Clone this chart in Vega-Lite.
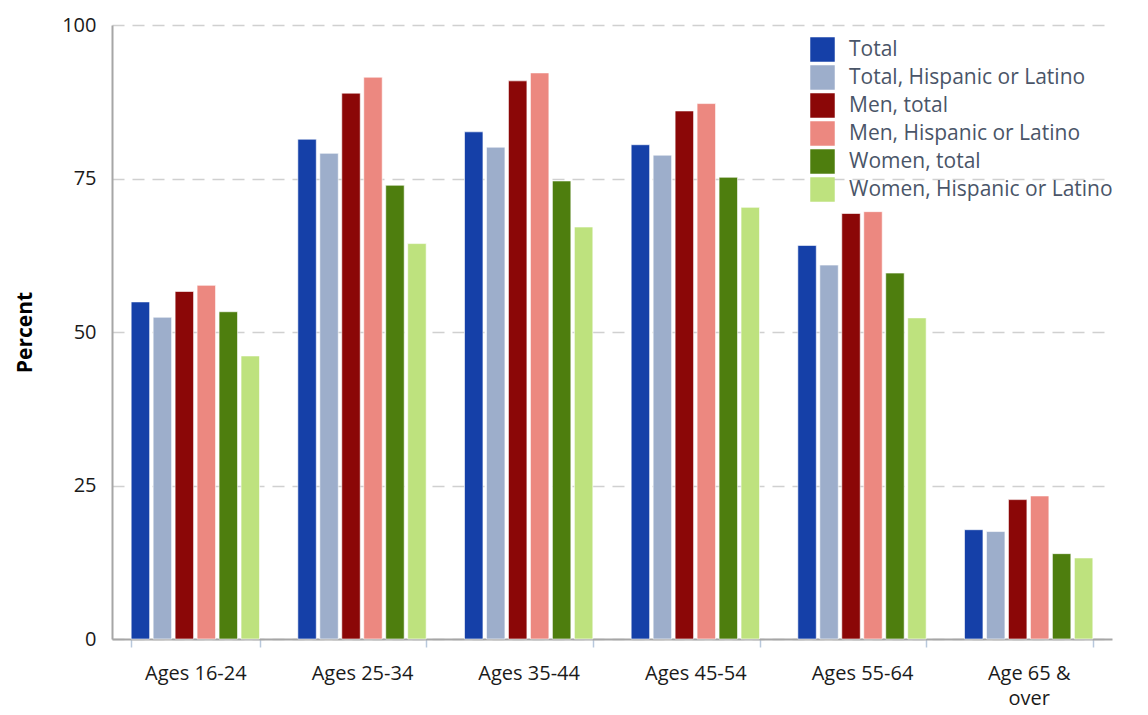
{
  "$schema": "https://vega.github.io/schema/vega-lite/v6.json",
  "width": 1000,
  "height": 614,
  "autosize": {"type": "none"},
  "padding": {"left": 112, "top": 25, "right": 36, "bottom": 76},
  "background": "white",
  "data": {
    "values": [
      {"age": "Ages 16-24", "series": "Total", "value": 54.9},
      {"age": "Ages 16-24", "series": "Total, Hispanic or Latino", "value": 52.4},
      {"age": "Ages 16-24", "series": "Men, total", "value": 56.6},
      {"age": "Ages 16-24", "series": "Men, Hispanic or Latino", "value": 57.6},
      {"age": "Ages 16-24", "series": "Women, total", "value": 53.3},
      {"age": "Ages 16-24", "series": "Women, Hispanic or Latino", "value": 46.1},
      {"age": "Ages 25-34", "series": "Total", "value": 81.4},
      {"age": "Ages 25-34", "series": "Total, Hispanic or Latino", "value": 79.1},
      {"age": "Ages 25-34", "series": "Men, total", "value": 88.9},
      {"age": "Ages 25-34", "series": "Men, Hispanic or Latino", "value": 91.5},
      {"age": "Ages 25-34", "series": "Women, total", "value": 73.9},
      {"age": "Ages 25-34", "series": "Women, Hispanic or Latino", "value": 64.4},
      {"age": "Ages 35-44", "series": "Total", "value": 82.6},
      {"age": "Ages 35-44", "series": "Total, Hispanic or Latino", "value": 80.1},
      {"age": "Ages 35-44", "series": "Men, total", "value": 90.9},
      {"age": "Ages 35-44", "series": "Men, Hispanic or Latino", "value": 92.2},
      {"age": "Ages 35-44", "series": "Women, total", "value": 74.6},
      {"age": "Ages 35-44", "series": "Women, Hispanic or Latino", "value": 67.1},
      {"age": "Ages 45-54", "series": "Total", "value": 80.5},
      {"age": "Ages 45-54", "series": "Total, Hispanic or Latino", "value": 78.8},
      {"age": "Ages 45-54", "series": "Men, total", "value": 86.0},
      {"age": "Ages 45-54", "series": "Men, Hispanic or Latino", "value": 87.2},
      {"age": "Ages 45-54", "series": "Women, total", "value": 75.2},
      {"age": "Ages 45-54", "series": "Women, Hispanic or Latino", "value": 70.3},
      {"age": "Ages 55-64", "series": "Total", "value": 64.1},
      {"age": "Ages 55-64", "series": "Total, Hispanic or Latino", "value": 60.9},
      {"age": "Ages 55-64", "series": "Men, total", "value": 69.3},
      {"age": "Ages 55-64", "series": "Men, Hispanic or Latino", "value": 69.6},
      {"age": "Ages 55-64", "series": "Women, total", "value": 59.6},
      {"age": "Ages 55-64", "series": "Women, Hispanic or Latino", "value": 52.3},
      {"age": "Age 65 & over", "series": "Total", "value": 17.8},
      {"age": "Age 65 & over", "series": "Total, Hispanic or Latino", "value": 17.5},
      {"age": "Age 65 & over", "series": "Men, total", "value": 22.7},
      {"age": "Age 65 & over", "series": "Men, Hispanic or Latino", "value": 23.3},
      {"age": "Age 65 & over", "series": "Women, total", "value": 13.9},
      {"age": "Age 65 & over", "series": "Women, Hispanic or Latino", "value": 13.2}
    ]
  },
  "mark": {"type": "bar", "stroke": "#ffffff", "strokeWidth": 1, "strokeOpacity": 0.6},
  "encoding": {
    "x": {
      "field": "age",
      "type": "nominal",
      "sort": null,
      "scale": {"paddingInner": 0.23, "paddingOuter": 0.115},
      "axis": {
        "title": null,
        "labelAngle": 0,
        "labelFont": "Open Sans",
        "labelFontSize": 20,
        "labelColor": "#1a1a1a",
        "labelPadding": 16,
        "labelLineHeight": 25,
        "labelExpr": "datum.label == 'Age 65 & over' ? ['Age 65 &', 'over'] : datum.label",
        "tickBand": "extent",
        "tickSize": 8,
        "tickColor": "#b8c8dc",
        "tickWidth": 1.5,
        "domainColor": "#a6a6a6",
        "domainWidth": 2,
        "grid": false
      }
    },
    "xOffset": {
      "field": "series",
      "type": "nominal",
      "sort": ["Total", "Total, Hispanic or Latino", "Men, total", "Men, Hispanic or Latino", "Women, total", "Women, Hispanic or Latino"],
      "scale": {"paddingInner": 0.16, "paddingOuter": 0}
    },
    "y": {
      "field": "value",
      "type": "quantitative",
      "scale": {"domain": [0, 100], "nice": false},
      "axis": {
        "title": "Percent",
        "titleFont": "Open Sans",
        "titleFontSize": 21,
        "titleFontWeight": "bold",
        "titleColor": "#000000",
        "titlePadding": 26,
        "values": [0, 25, 50, 75, 100],
        "labelFont": "Open Sans",
        "labelFontSize": 20,
        "labelColor": "#1a1a1a",
        "labelPadding": 16,
        "ticks": false,
        "domainColor": "#a6a6a6",
        "domainWidth": 2,
        "grid": true,
        "gridColor": "#d0d0d0",
        "gridWidth": 1.5,
        "gridDash": [12, 8]
      }
    },
    "color": {
      "field": "series",
      "type": "nominal",
      "scale": {
        "domain": ["Total", "Total, Hispanic or Latino", "Men, total", "Men, Hispanic or Latino", "Women, total", "Women, Hispanic or Latino"],
        "range": ["#1540a8", "#9daecb", "#8b0707", "#ec8880", "#4e7e0e", "#bee27e"]
      },
      "legend": {
        "title": null,
        "orient": "none",
        "legendX": 698,
        "legendY": 12,
        "symbolType": "square",
        "symbolSize": 600,
        "symbolStrokeWidth": 0,
        "symbolOpacity": 1,
        "labelFont": "Open Sans",
        "labelFontSize": 21,
        "labelColor": "#4a5568",
        "labelOffset": 14,
        "labelLimit": 400,
        "rowPadding": 3
      }
    }
  },
  "config": {"view": {"stroke": null}}
}
